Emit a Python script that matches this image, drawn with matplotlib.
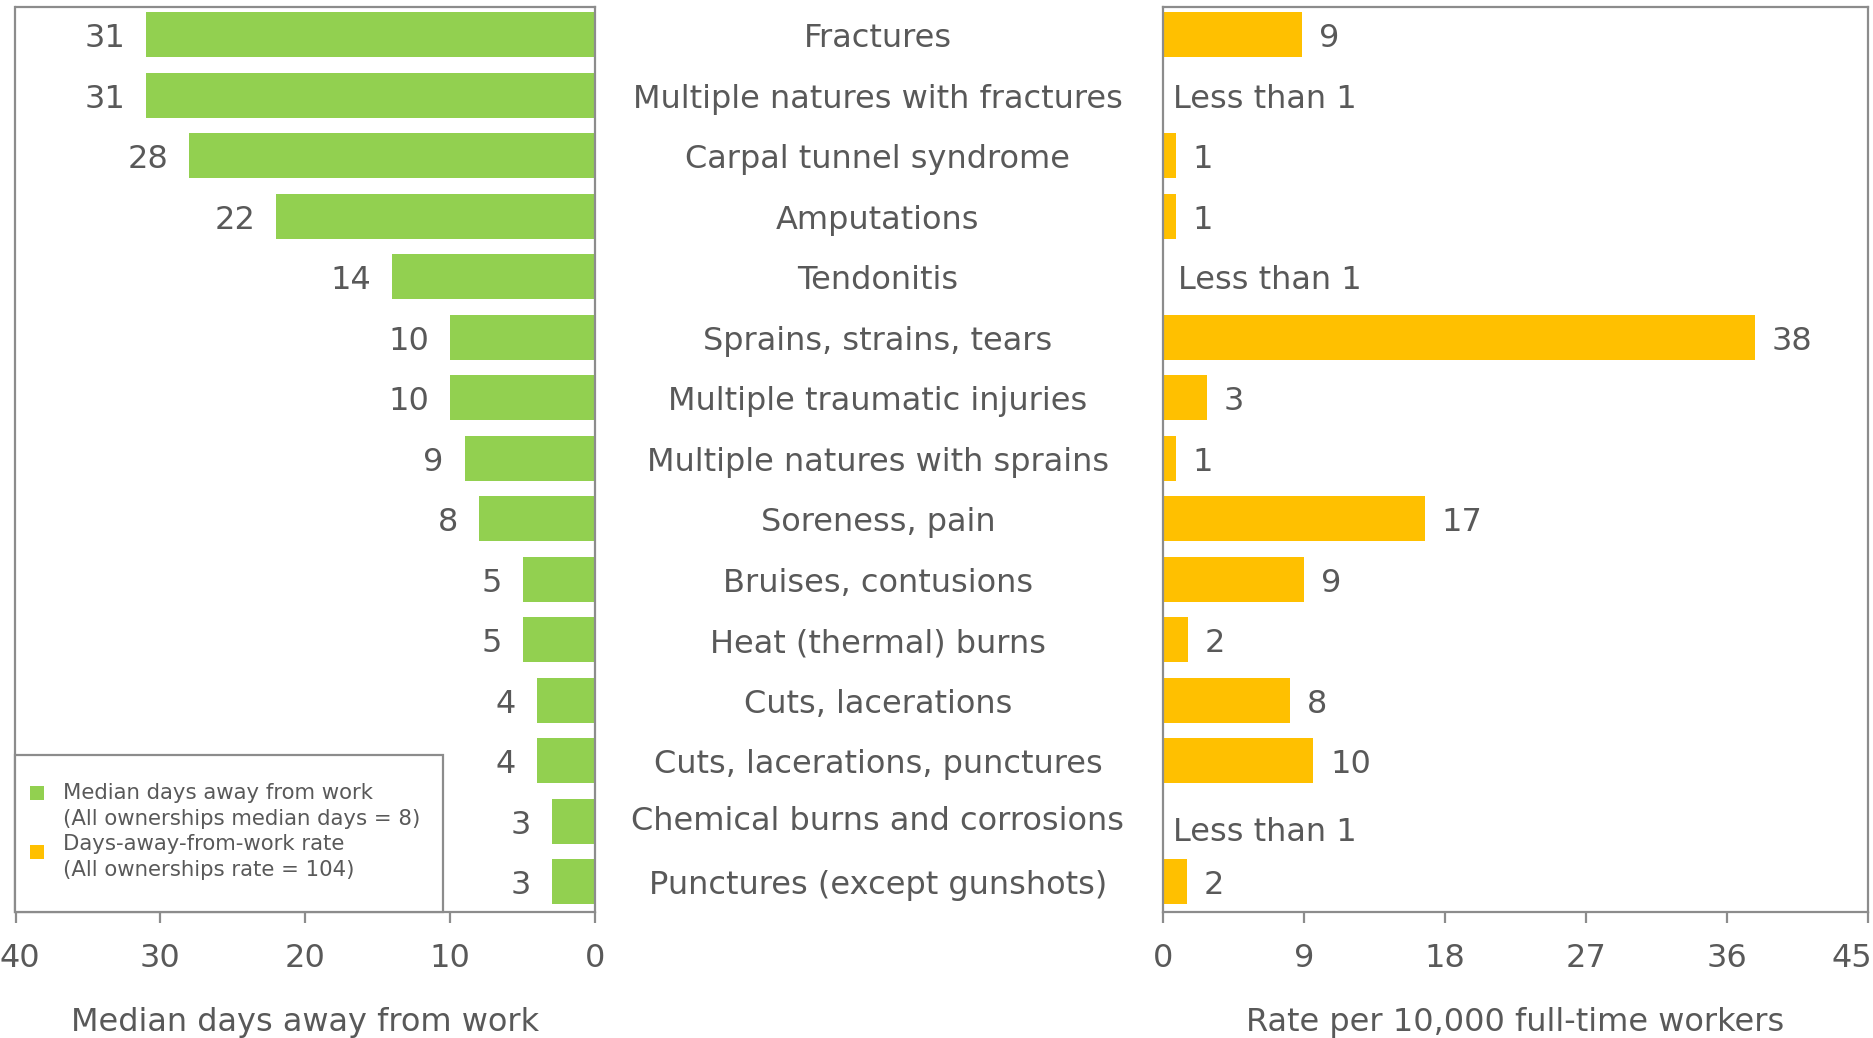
import matplotlib
matplotlib.use("Agg")
import matplotlib.pyplot as plt
import matplotlib.transforms as mtransforms
from matplotlib.patches import Rectangle

categories = [
    "Fractures", "Multiple natures with fractures", "Carpal tunnel syndrome",
    "Amputations", "Tendonitis", "Sprains, strains, tears",
    "Multiple traumatic injuries", "Multiple natures with sprains",
    "Soreness, pain", "Bruises, contusions", "Heat (thermal) burns",
    "Cuts, lacerations", "Cuts, lacerations, punctures",
    "Chemical burns and corrosions", "Punctures (except gunshots)",
]
median_days = [31, 31, 28, 22, 14, 10, 10, 9, 8, 5, 5, 4, 4, 3, 3]
rate_values = [8.9, 0, 0.8, 0.8, 0, 37.8, 2.8, 0.8, 16.7, 9.0, 1.6, 8.1, 9.6, 0, 1.5]
rate_labels = ["9", "Less than 1", "1", "1", "Less than 1", "38", "3", "1",
               "17", "9", "2", "8", "10", "Less than 1", "2"]
left_ticks = [40, 30, 20, 10, 0]
right_ticks = [0, 9, 18, 27, 36, 45]

GREEN = "#92D050"
ORANGE = "#FFC000"
TEXT = "#595959"
SPINE = "#8C8C8C"
FS = 23
BASE_OFF = -9  # points: baseline below bar centre

plt.rcParams['font.family'] = ['DejaVu Sans']

fig = plt.figure(figsize=(18.74, 10.38), dpi=100)
bottom, height = 0.1214, 0.8719
ax1 = fig.add_axes([15.5 / 1874, bottom, 579.5 / 1874, height])
ax2 = fig.add_axes([1163 / 1874, bottom, 705 / 1874, height])

ypos = list(range(len(categories)))
ax1.barh(ypos, median_days, height=0.75, color=GREEN)
ax2.barh(ypos, rate_values, height=0.75, color=ORANGE)

for ax in (ax1, ax2):
    ax.set_ylim(14.5, -0.46)
    ax.set_yticks([])
    for s in ax.spines.values():
        s.set_color(SPINE)
        s.set_linewidth(1.6)
    ax.tick_params(axis='x', direction='out', length=8, width=1.6, color=SPINE,
                   labelsize=FS, labelcolor=TEXT, pad=14)

ax1.set_xlim(40, 0)
ax1.set_xticks(left_ticks)
ax2.set_xlim(0, 45)
ax2.set_xticks(right_ticks)

# nudge the outermost tick labels toward the inside of the figure
first = ax1.get_xticklabels()[0]
first.set_transform(first.get_transform() +
                    mtransforms.ScaledTranslation(4 / 100, 0, fig.dpi_scale_trans))
last = ax2.get_xticklabels()[-1]
last.set_transform(last.get_transform() +
                   mtransforms.ScaledTranslation(-16 / 100, 0, fig.dpi_scale_trans))

for i, v in enumerate(median_days):
    ax1.annotate(str(v), (v, i), xytext=(-15, BASE_OFF), textcoords='offset points',
                 ha='right', va='baseline', fontsize=FS, color=TEXT)
for i, (v, lab) in enumerate(zip(rate_values, rate_labels)):
    off = 12 if v > 0 else 7
    dy = BASE_OFF
    if i == 4:
        off += 4
    if i == 13:
        dy -= 5
    ax2.annotate(lab, (v, i), xytext=(off, dy), textcoords='offset points',
                 ha='left', va='baseline', fontsize=FS, color=TEXT)

trans = mtransforms.blended_transform_factory(fig.transFigure, ax1.transData)
for i, c in enumerate(categories):
    dy = BASE_OFF / 72
    if i == 13:
        dy += 3 / 72
    t = trans + mtransforms.ScaledTranslation(0, dy, fig.dpi_scale_trans)
    fig.text(878 / 1874, i, c, transform=t, ha='center', va='baseline',
             fontsize=FS, color=TEXT)

fig.text(305 / 1874, 1 - 1022 / 1038, "Median days away from work", ha='center',
         va='center', fontsize=FS, color=TEXT)
fig.text(1515 / 1874, 1 - 1022 / 1038, "Rate per 10,000 full-time workers",
         ha='center', va='center', fontsize=FS, color=TEXT)

# legend box
lx0, lx1 = 15.5 / 1874, 443 / 1874
ly0, ly1 = 1 - 912 / 1038, 1 - 755 / 1038
fig.patches.append(Rectangle((lx0, ly0), lx1 - lx0, ly1 - ly0, transform=fig.transFigure,
                             facecolor='white', edgecolor=SPINE, linewidth=1.6, zorder=5))
LFS = 15.3
sq = 14 / 1874
sqh = 14 / 1038
fig.patches.append(Rectangle((30 / 1874, 1 - 800 / 1038), sq, sqh, transform=fig.transFigure,
                             facecolor=GREEN, edgecolor='none', zorder=6))
fig.patches.append(Rectangle((30 / 1874, 1 - 859 / 1038), sq, sqh, transform=fig.transFigure,
                             facecolor=ORANGE, edgecolor='none', zorder=6))
leg_lines = ["Median days away from work", "(All ownerships median days = 8)",
             "Days-away-from-work rate", "(All ownerships rate = 104)"]
leg_y = [793, 819, 844, 870]
for t, y in zip(leg_lines, leg_y):
    fig.text(63 / 1874, 1 - y / 1038, t, ha='left', va='center', fontsize=LFS,
             color=TEXT, zorder=7)

fig.savefig("out.png", dpi=100)
